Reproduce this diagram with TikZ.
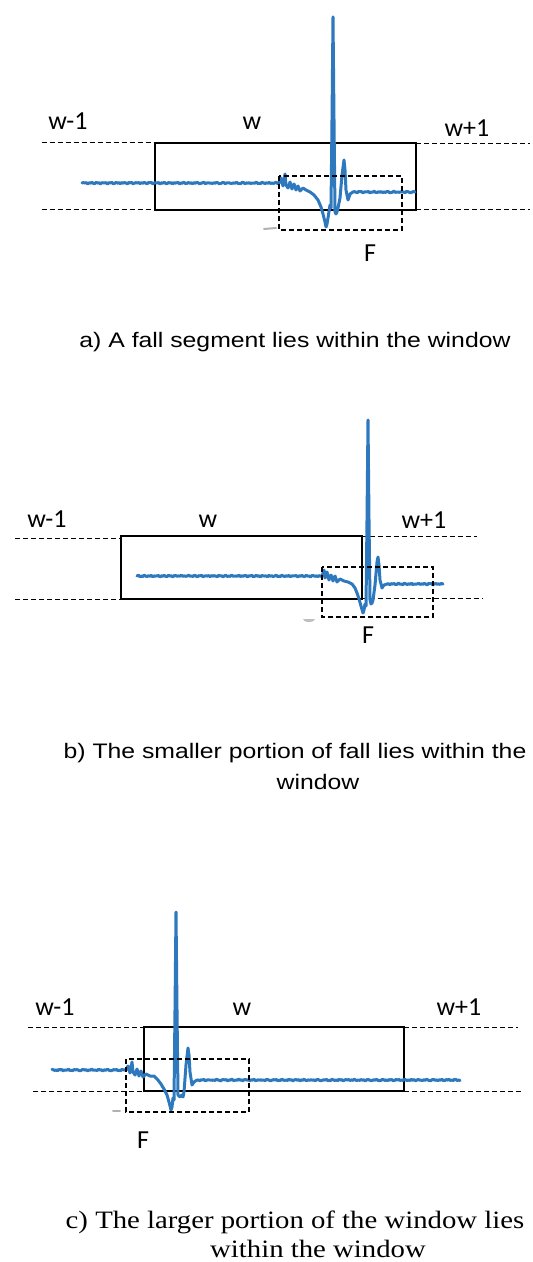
\documentclass[tikz,border=0pt]{standalone}
\usepackage{fontspec}
\newfontfamily\labfont{Carlito}
\newfontfamily\capsans[FakeStretch=1.18]{Liberation Sans}
\newfontfamily\capserif[FakeStretch=1.15]{Liberation Serif}
\definecolor{sig}{RGB}{46,120,190}
\newcommand\nz[1]{(0.5*sin(mod(#1,10)*157)+0.4*sin(mod(#1,7)*311+40))}
\tikzset{
  lab/.style={font=\labfont\fontsize{13}{15}\selectfont, anchor=base, inner sep=0pt},
  capA/.style={font=\capsans\fontsize{10.5}{12}\selectfont, anchor=base, inner sep=0pt},
  capC/.style={font=\capserif\fontsize{12.5}{14}\selectfont, anchor=base, inner sep=0pt},
  guide/.style={dash pattern=on 2.5pt off 1.5pt, line width=0.5pt},
  win/.style={line width=0.75pt},
  fallbox/.style={dash pattern=on 2.5pt off 1.5pt, line width=0.6pt},
  wave/.style={sig, line width=1.5pt, line join=round, line cap=round},
  smudge/.style={gray!60, line width=1pt, line cap=round}
}
\begin{document}
\begin{tikzpicture}[x=0.5pt,y=-0.5pt]
\useasboundingbox (0,0) rectangle (533,1262);

% ---------------- panel a ----------------
\node[lab] (a-wm) at (68,130) {w-1};
\node[lab] (a-w)  at (252,130) {w};
\node[lab] (a-wp) at (467,137) {w+1};
\draw[guide] (42,143) -- (155,143);
\draw[guide] (416,144) -- (530,144);
\draw[guide] (42,210) -- (155,210);
\draw[guide] (416,210) -- (530,210);
\draw[win] (155,143) rectangle (416,210);
\draw[wave] plot[domain=82:279,samples=140] (\x,{183+\nz{\x}})
  -- (281,178) -- (283,186) -- (285,174) -- (286,185) -- (288,188) -- (290,182)
  -- (292,189) -- (294,184) -- (296,190) -- (298,186) -- (300,191) -- (303,188)
  -- (306,190) -- (310,192) -- (314,195) -- (318,200) -- (321,207) -- (323,214)
  -- (325,222) -- (326,227) -- (327,224) -- (328,218) -- (330,205) -- (331,208)
  -- (332,120) -- (333,17) -- (334,120) -- (335,212) -- (336,214) -- (337,212)
  -- (338,208) -- (340,198) -- (342,175) -- (344,160) -- (345,170) -- (346,190)
  -- (348,200) -- (350,194) -- (353,192)
  -- plot[domain=353:415,samples=45] (\x,{192+\nz{\x}});
\draw[fallbox] (279,176) rectangle (402,230);
\draw[smudge] (264,229) -- (276,228);
\node[lab] (a-F) at (370,262) {F};
\node[capA] (a-cap) at (295,348) {a) A fall segment lies within the window};

% ---------------- panel b ----------------
\node[lab] (b-wm) at (47,527) {w-1};
\node[lab] (b-w)  at (208,527) {w};
\node[lab] (b-wp) at (424,528) {w+1};
\draw[guide] (15,538) -- (121,538);
\draw[guide] (362,536) -- (477,536);
\draw[guide] (15,599) -- (121,599);
\draw[guide] (362,598) -- (483,598);
\draw[win] (121,536) rectangle (362,599);
\draw[wave] plot[domain=137:322,samples=130] (\x,{576+\nz{\x}})
  -- (324,570) -- (325,578) -- (327,572) -- (329,580) -- (331,575) -- (333,581)
  -- (335,576) -- (337,582) -- (340,579) -- (344,581) -- (348,582) -- (352,584)
  -- (355,588) -- (357,593) -- (359,599) -- (361,606) -- (363,613) -- (364,610)
  -- (365,604) -- (366,606) -- (367,520) -- (368,420) -- (369,520) -- (370,600)
  -- (371,604) -- (372,603) -- (373,600) -- (375,585) -- (377,562) -- (378,557)
  -- (379,565) -- (380,580) -- (382,588) -- (384,585) -- (387,584)
  -- plot[domain=387:443,samples=40] (\x,{584+\nz{\x}});
\draw[fallbox] (322,567) rectangle (433,617);
\fill[gray!50] (303,619) arc[start angle=180,end angle=0,x radius=6,y radius=3] -- cycle;
\node[lab] (b-F) at (368,643) {F};
\node[capA] (b-cap1) at (295,758) {b) The smaller portion of fall lies within the};
\node[capA] (b-cap2) at (318,789) {window};

% ---------------- panel c ----------------
\node[lab] (c-wm) at (55,1015) {w-1};
\node[lab] (c-w)  at (242,1015) {w};
\node[lab] (c-wp) at (459,1015) {w+1};
\draw[guide] (28,1027) -- (144,1027);
\draw[guide] (404,1027) -- (518,1027);
\draw[guide] (33,1091) -- (144,1091);
\draw[guide] (404,1091) -- (523,1091);
\draw[win] (144,1027) rectangle (404,1091);
\draw[wave] plot[domain=52:126,samples=55] (\x,{1070+\nz{\x}})
  -- (128,1066) -- (130,1073) -- (132,1062) -- (133,1072) -- (135,1075) -- (137,1069)
  -- (139,1076) -- (141,1071) -- (143,1077) -- (146,1074) -- (150,1076) -- (154,1076)
  -- (158,1080) -- (161,1084) -- (164,1089) -- (167,1095) -- (169,1102) -- (171,1110)
  -- (172,1107) -- (173,1098) -- (174,1100) -- (175,1010) -- (176,912) -- (177,1010)
  -- (178,1095) -- (180,1097) -- (182,1095) -- (183,1097) -- (184,1092) -- (186,1065)
  -- (188,1048) -- (189,1055) -- (190,1072) -- (192,1085) -- (194,1082) -- (197,1080)
  -- plot[domain=197:460,samples=190] (\x,{1080+\nz{\x}});
\draw[fallbox] (126,1059) rectangle (249,1112);
\draw[smudge] (113,1111) -- (120,1111);
\node[lab] (c-F) at (143,1148) {F};
\node[capC] (c-cap1) at (295,1228) {c) The larger portion of the window lies};
\node[capC] (c-cap2) at (318,1257) {within the window};
\end{tikzpicture}
\end{document}
